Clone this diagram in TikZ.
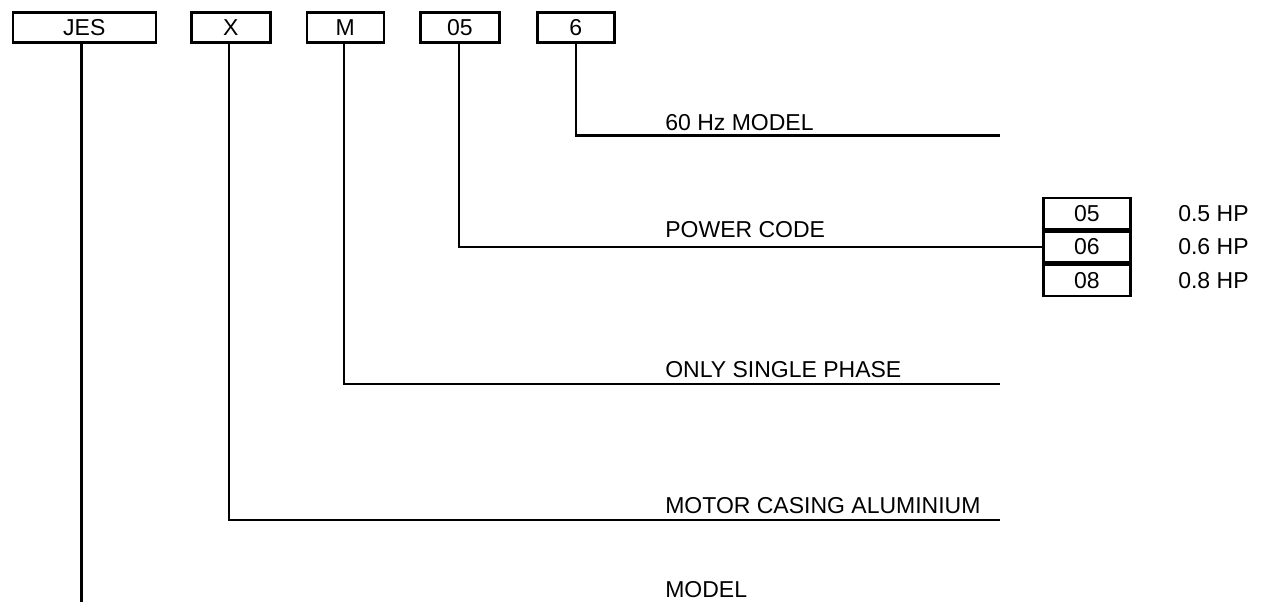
\documentclass[tikz,border=0pt]{standalone}
\usepackage{fontspec}
\setmainfont{Liberation Sans}
\begin{document}
\begin{tikzpicture}[x=1pt,y=-1pt,line width=2.6pt,
  txt/.style={font=\fontsize{23}{26}\selectfont},
  codebox/.style={txt,draw,line width=2.6pt,inner sep=0pt,anchor=north west,minimum height=30pt},
  lbl/.style={txt,anchor=base west,inner sep=0pt},
  pbox/.style={txt,draw,line width=2.6pt,inner sep=0pt,minimum width=87pt,minimum height=31pt,
    anchor=north west}]
\useasboundingbox (0,0) rectangle (1266,602);
% top code boxes
\node[codebox,minimum width=143pt] (jes) at (11.5,11.5) {JES};
\node[codebox,minimum width=79pt] (x) at (190,11.5) {X};
\node[codebox,minimum width=77pt] (m) at (305.5,11.5) {M};
\node[codebox,minimum width=79pt] (p) at (419,11.5) {05};
\node[codebox,minimum width=77pt] (h) at (536,11.5) {6};
% end points
\coordinate (eh) at (1000,135.5);
\coordinate (em) at (1000,384);
\coordinate (ex) at (1000,520);
\coordinate (ej) at (81.5,602);
\coordinate (hp) at (1177,0);
% power boxes
\node[pbox] (b05) at (1042,196.5) {05};
\node[pbox,anchor=north] (b06) at (b05.south) {06};
\node[pbox,anchor=north] (b08) at (b06.south) {08};
% connectors
\draw (h.south -| 576,0) |- (eh);
\draw (p.south -| 459,0) |- (b06.west);
\draw (m.south -| 344,0) |- (em);
\draw (x.south -| 229,0) |- (ex);
\draw (jes.south -| ej) -- (ej);
% labels
\node[lbl] (t1) at (664,130) {60 Hz MODEL};
\node[lbl] (t2) at (664,237) {POWER CODE};
\node[lbl] (t3) at (664,377) {ONLY SINGLE PHASE};
\node[lbl] (t4) at (664,513) {MOTOR CASING ALUMINIUM};
\node[lbl] (t5) at (664,597) {MODEL};
\node[lbl,anchor=west] (h1) at (b05.center -| hp) {0.5 HP};
\node[lbl,anchor=west] (h2) at (b06.center -| hp) {0.6 HP};
\node[lbl,anchor=west] (h3) at (b08.center -| hp) {0.8 HP};
\end{tikzpicture}
\end{document}
